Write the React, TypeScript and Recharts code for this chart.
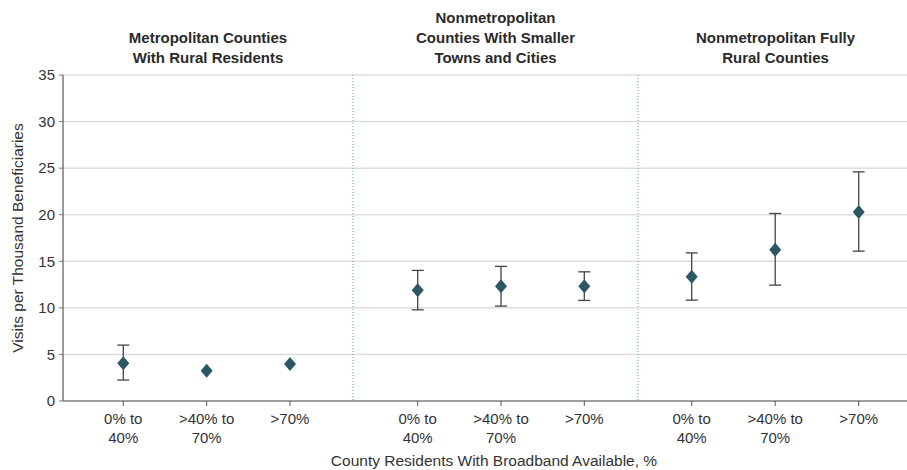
import { ComposedChart, Scatter, ErrorBar, XAxis, YAxis, CartesianGrid } from "recharts";

const categories = ["0% to\n40%", ">40% to\n70%", ">70%"];
const panelTitles = [
  "Metropolitan Counties\nWith Rural Residents",
  "Nonmetropolitan\nCounties With Smaller\nTowns and Cities",
  "Nonmetropolitan Fully\nRural Counties",
];

// visits per 1000 beneficiaries, with 95% CI (null = CI hidden behind marker)
const metroRate = [4.04, 3.25, 3.97];
const metroLow = [2.25, null, null];
const metroHigh = [6.0, null, null];

const smallTownRate = [11.9, 12.33, 12.33];
const smallTownLow = [9.79, 10.19, 10.8];
const smallTownHigh = [14.02, 14.45, 13.87];

const ruralRate = [13.33, 16.23, 20.3];
const ruralLow = [10.83, 12.44, 16.09];
const ruralHigh = [15.9, 20.13, 24.6];

const yTicks = [0, 5, 10, 15, 20, 25, 30, 35];

const FONT = "'Liberation Sans', Arial, sans-serif";
const TEXT = "#333";
const MARKER = "#2b5664";
const DIVIDER = "#3ea6e0";

const buildRows = (rate: number[], low: (number | null)[], high: (number | null)[]) =>
  categories.map((label, i) => ({
    label,
    value: rate[i],
    err:
      low[i] == null || high[i] == null
        ? undefined
        : [rate[i] - (low[i] as number), (high[i] as number) - rate[i]],
  }));

const panels = [
  { rows: buildRows(metroRate, metroLow, metroHigh), left: 0, width: 353, pad: { left: 60.3, right: 63 } },
  { rows: buildRows(smallTownRate, smallTownLow, smallTownHigh), left: 352, width: 286, pad: { left: 64.7, right: 53.7 } },
  { rows: buildRows(ruralRate, ruralLow, ruralHigh), left: 637, width: 276, pad: { left: 53.7, right: 54.3 } },
];

const Diamond = (props: any) => {
  const { cx, cy } = props;
  return <path d={`M${cx},${cy - 7}L${cx + 6},${cy}L${cx},${cy + 7}L${cx - 6},${cy}Z`} fill={MARKER} />;
};

const CategoryTick = ({ x, y, payload }: any) => {
  const lines = String(payload.value).split("\n");
  return (
    <text x={x} y={y} textAnchor="middle" fill={TEXT} fontSize={15} fontFamily={FONT}>
      {lines.map((line, i) => (
        <tspan key={i} x={x} dy={i === 0 ? 16 : 19}>
          {line}
        </tspan>
      ))}
    </text>
  );
};

const NoTick = () => <g />;

export default function App() {
  return (
    <div
      style={{
        position: "absolute",
        left: 0,
        top: 0,
        width: 907,
        height: 470,
        overflow: "hidden",
        background: "#fff",
        fontFamily: FONT,
        color: TEXT,
      }}
    >
      {panels.map((p, idx) => {
        const first = idx === 0;
        const plotLeft = p.left + (first ? 63 : 1);
        return (
          <div key={idx}>
            <div
              style={{
                position: "absolute",
                left: plotLeft,
                width: p.left + p.width - plotLeft,
                top: 0,
                height: 68,
                display: "flex",
                alignItems: "flex-end",
                justifyContent: "center",
                textAlign: "center",
                fontWeight: 700,
                fontSize: 15,
                lineHeight: "20px",
                whiteSpace: "pre",
                color: "#2a2a2a",
              }}
            >
              {panelTitles[idx]}
            </div>
            <div style={{ position: "absolute", left: p.left, top: 0 }}>
              <ComposedChart
                width={p.width}
                height={470}
                data={p.rows}
                margin={{ top: 75, right: 0, bottom: 0, left: 0 }}
              >
                <CartesianGrid horizontal vertical={false} stroke="#dedede" strokeWidth={1.5} />
                <XAxis
                  dataKey="label"
                  type="category"
                  interval={0}
                  padding={p.pad}
                  height={69}
                  tick={<CategoryTick />}
                  tickSize={5}
                  tickMargin={2}
                  axisLine={{ stroke: "#555", strokeWidth: 1.2 }}
                  tickLine={{ stroke: "#555" }}
                />
                {first ? (
                  <YAxis
                    type="number"
                    domain={[0, 35]}
                    ticks={yTicks}
                    width={63}
                    tickSize={4}
                    tickMargin={4}
                    tick={{ fill: TEXT, fontSize: 15, fontFamily: FONT }}
                    axisLine={{ stroke: "#777", strokeWidth: 1.5 }}
                    tickLine={{ stroke: "#777" }}
                  />
                ) : (
                  <YAxis
                    type="number"
                    domain={[0, 35]}
                    ticks={yTicks}
                    width={1}
                    tickSize={0}
                    tick={<NoTick />}
                    tickLine={false}
                    axisLine={{ stroke: DIVIDER, strokeDasharray: "1 2" }}
                  />
                )}
                <Scatter dataKey="value" shape={<Diamond />} isAnimationActive={false}>
                  <ErrorBar dataKey="err" direction="y" width={6} stroke="#444" strokeWidth={1.3} />
                </Scatter>
              </ComposedChart>
            </div>
          </div>
        );
      })}
      <div
        style={{
          position: "absolute",
          left: -182,
          top: 228,
          width: 400,
          height: 20,
          lineHeight: "20px",
          textAlign: "center",
          fontSize: 15.5,
          transform: "rotate(-90deg)",
        }}
      >
        Visits per Thousand Beneficiaries
      </div>
      <div
        style={{
          position: "absolute",
          left: 63,
          width: 862,
          top: 451,
          lineHeight: "20px",
          textAlign: "center",
          fontSize: 15.5,
        }}
      >
        County Residents With Broadband Available, %
      </div>
    </div>
  );
}
